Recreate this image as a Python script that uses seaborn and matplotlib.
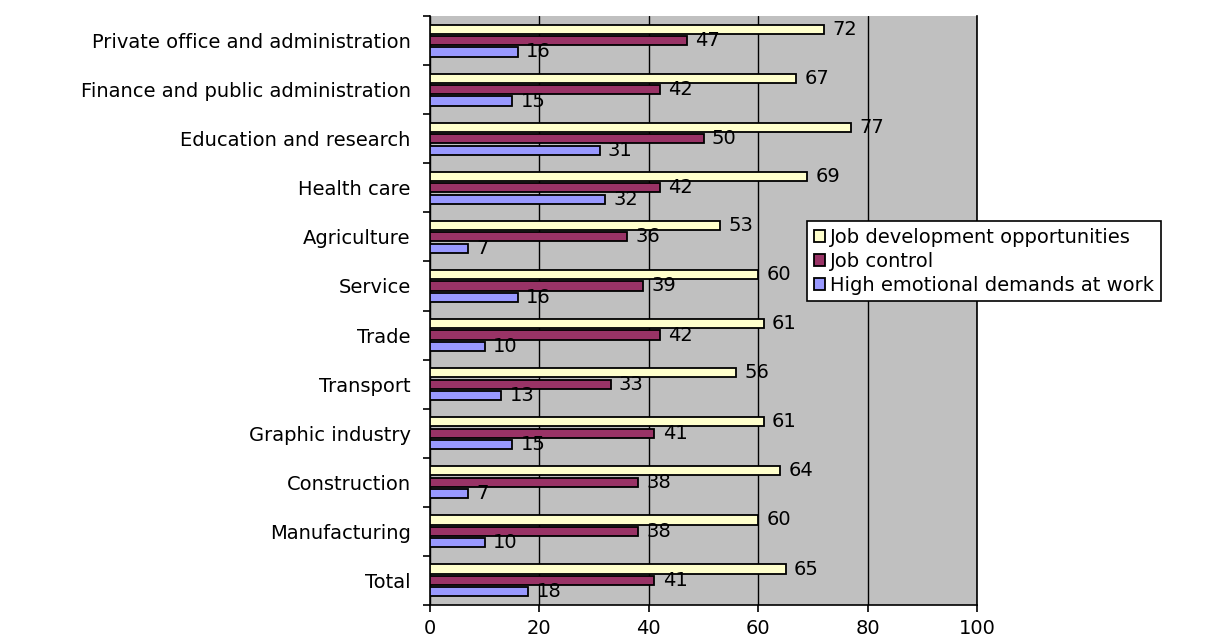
import matplotlib
matplotlib.use("Agg")
import matplotlib.pyplot as plt
import seaborn as sns
import pandas as pd
from matplotlib.ticker import FixedLocator, NullFormatter

sectors = [
    "Private office and administration",
    "Finance and public administration",
    "Education and research",
    "Health care",
    "Agriculture",
    "Service",
    "Trade",
    "Transport",
    "Graphic industry",
    "Construction",
    "Manufacturing",
    "Total",
]
measures = [
    "Job development opportunities",
    "Job control",
    "High emotional demands at work",
]
job_development = [72, 67, 77, 69, 53, 60, 61, 56, 61, 64, 60, 65]
job_control = [47, 42, 50, 42, 36, 39, 42, 33, 41, 38, 38, 41]
emotional_demands = [16, 15, 31, 32, 7, 16, 10, 13, 15, 7, 10, 18]
x_ticks = [0, 20, 40, 60, 80, 100]

colors = ["#FFFFCC", "#993366", "#9999FF"]

rows = []
for series, vals in zip(measures, [job_development, job_control, emotional_demands]):
    for sec, v in zip(sectors, vals):
        rows.append({"sector": sec, "measure": series, "value": v})
df = pd.DataFrame(rows)

sns.set_style("white")
plt.rcParams["font.family"] = ["DejaVu Sans"]
plt.rcParams["text.color"] = "black"
plt.rcParams["xtick.color"] = "black"
plt.rcParams["ytick.color"] = "black"
plt.rcParams["xtick.labelcolor"] = "black"
plt.rcParams["ytick.labelcolor"] = "black"
FS = 14

fig = plt.figure(figsize=(12.28, 6.44), dpi=100)
ax = fig.add_axes([430 / 1228, 1 - 605 / 644, (977 - 430) / 1228, (605 - 16) / 644])
ax.set_facecolor("#C0C0C0")

sns.barplot(
    data=df, y="sector", x="value", hue="measure", orient="h",
    order=sectors, hue_order=measures, palette=colors,
    edgecolor="black", linewidth=1.3, width=0.7, gap=0.2, saturation=1,
    ax=ax, legend=True, zorder=3,
)

for cont in ax.containers:
    ax.bar_label(cont, fmt="%d", padding=6, fontsize=FS, color="black", zorder=4)

ax.set_xlim(0, 100)
ax.set_ylim(len(sectors) - 0.5, -0.5)
ax.set_xticks(x_ticks)
ax.set_xticklabels([str(t) for t in x_ticks], fontsize=FS)
ax.xaxis.grid(True, color="black", linewidth=1.0, zorder=1)
ax.set_axisbelow(True)
ax.yaxis.grid(False)

ax.set_yticks(range(len(sectors)))
ax.set_yticklabels(sectors, fontsize=FS)
ax.tick_params(axis="y", which="major", length=0, pad=14)
ax.yaxis.set_minor_locator(FixedLocator([i - 0.5 for i in range(len(sectors) + 1)]))
ax.yaxis.set_minor_formatter(NullFormatter())
ax.tick_params(axis="y", which="minor", length=5, width=1.2, color="black", left=True)
ax.tick_params(axis="x", which="major", length=5, width=1.2, color="black", pad=5, bottom=True)

ax.set_xlabel("")
ax.set_ylabel("")
for side in ["left", "bottom", "right"]:
    ax.spines[side].set_visible(True)
    ax.spines[side].set_color("black")
    ax.spines[side].set_linewidth(1.2)
ax.spines["top"].set_visible(False)

handles, labels = ax.get_legend_handles_labels()
ax.legend_.remove()
leg = fig.legend(
    handles, labels, loc="upper left",
    bbox_to_anchor=(807 / 1228, 1 - 221 / 644),
    fontsize=FS, frameon=True, fancybox=False, shadow=False,
    handlelength=0.55, handleheight=0.55, handletextpad=0.3,
    labelspacing=0.25, borderpad=0.35, borderaxespad=0,
)
leg.get_frame().set_edgecolor("black")
leg.get_frame().set_linewidth(1.2)
leg.get_frame().set_facecolor("white")
leg.get_frame().set_alpha(1)

fig.savefig("out.png", dpi=100)
